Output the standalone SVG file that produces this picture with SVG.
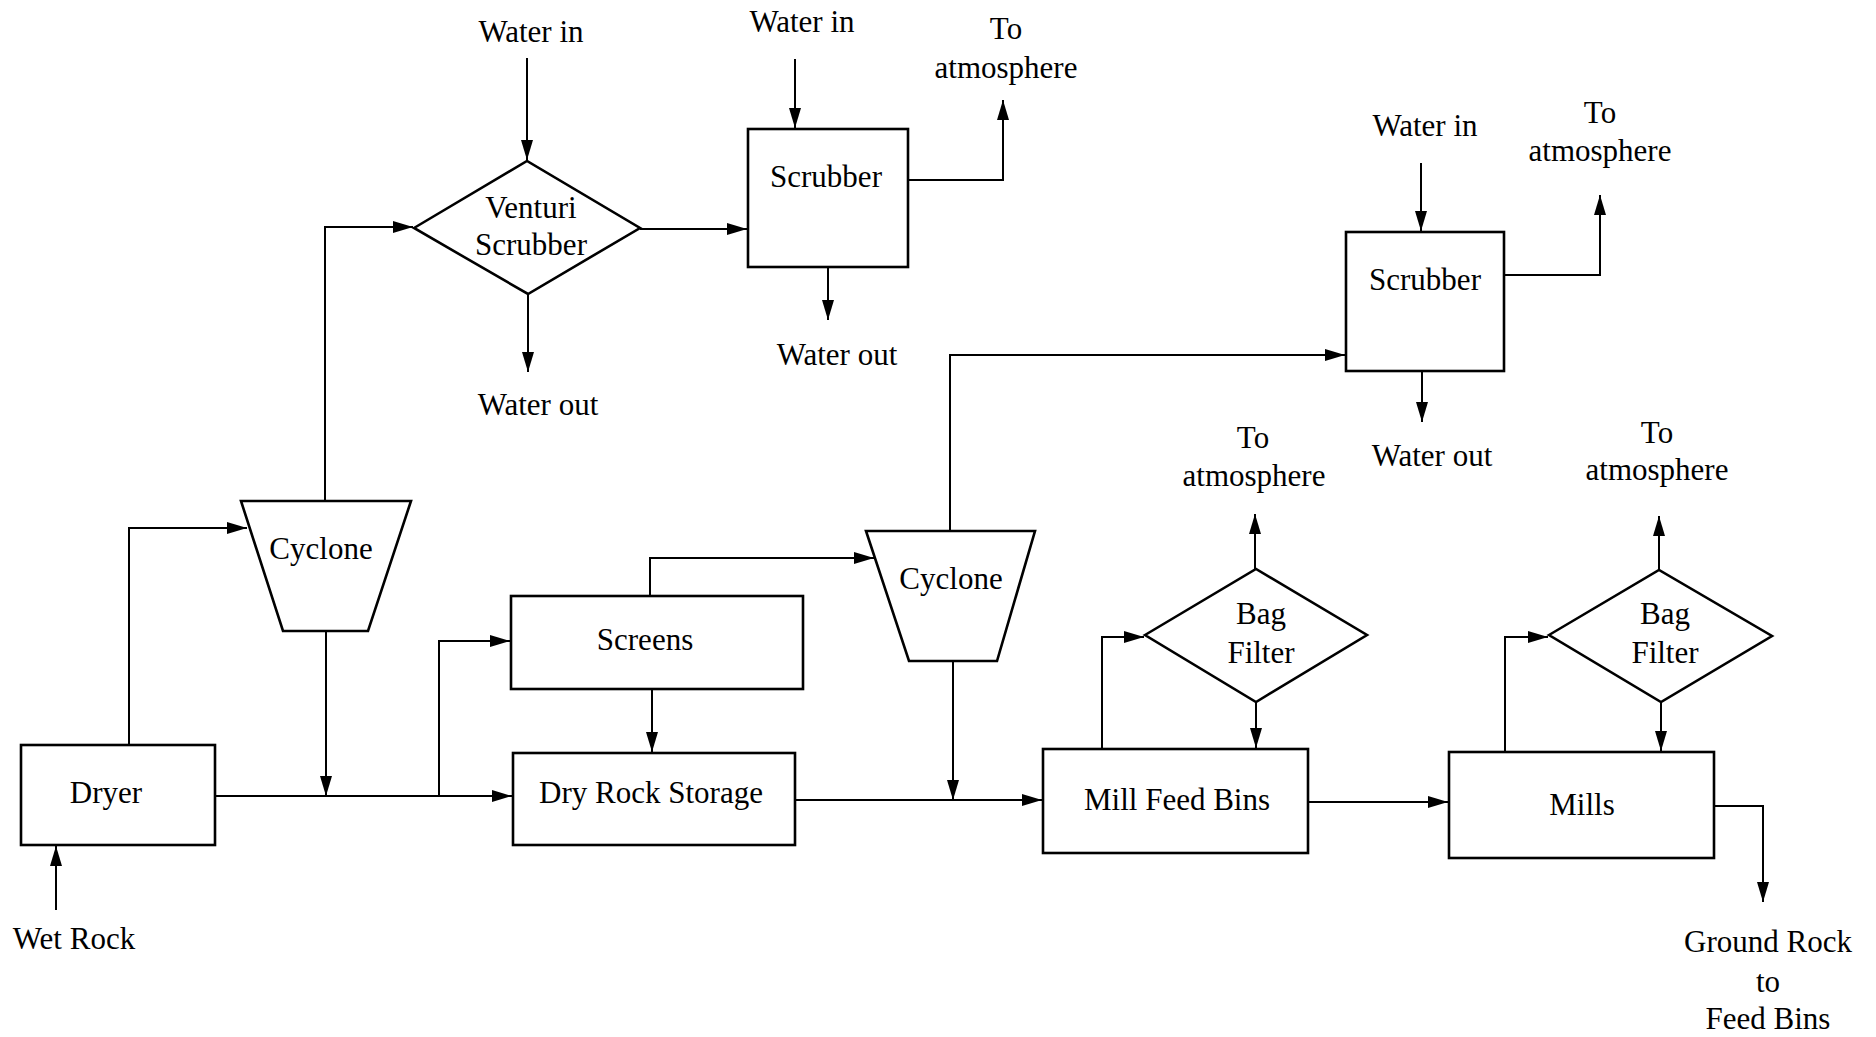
<svg xmlns="http://www.w3.org/2000/svg" width="1876" height="1037" viewBox="0 0 1876 1037">
<style>
.n{fill:#fff;stroke:#000;stroke-width:2.6}
.c{fill:none;stroke:#000;stroke-width:2}
text{font-family:"Liberation Serif","Times New Roman",serif;font-size:31px;fill:#000;text-anchor:middle}
</style>
<defs>
<marker id="a" markerUnits="userSpaceOnUse" markerWidth="20" markerHeight="12" refX="20" refY="6" orient="auto">
<path d="M0,0 L20,6 L0,12 z" fill="#000"/>
</marker>
</defs>
<rect width="1876" height="1037" fill="#fff"/>
<g id="connectors" class="c" marker-end="url(#a)">
<path d="M527,58 L527,160"/>
<path d="M528,294 L528,372"/>
<path d="M325,501 L325,227 L413,227"/>
<path d="M640,229 L747,229"/>
<path d="M795,59 L795,128"/>
<path d="M908,180 L1003,180 L1003,100"/>
<path d="M828,267 L828,320"/>
<path d="M950,531 L950,355 L1345,355"/>
<path d="M1421,163 L1421,231"/>
<path d="M1504,275 L1600,275 L1600,195"/>
<path d="M1422,371 L1422,422"/>
<path d="M56,910 L56,846"/>
<path d="M129,745 L129,528 L247,528"/>
<path d="M215,796 L512,796"/>
<path d="M326,631 L326,796"/>
<path d="M439,796 L439,641 L510,641"/>
<path d="M652,689 L652,752"/>
<path d="M650,596 L650,558 L874,558"/>
<path d="M795,800 L1042,800"/>
<path d="M953,661 L953,800"/>
<path d="M1102,749 L1102,637 L1144,637"/>
<path d="M1255,569 L1255,514"/>
<path d="M1256,702 L1256,748"/>
<path d="M1308,802 L1448,802"/>
<path d="M1505,752 L1505,637 L1548,637"/>
<path d="M1659,570 L1659,516"/>
<path d="M1661,702 L1661,751"/>
<path d="M1714,806 L1763,806 L1763,902"/>
</g>
<g id="dryer"><rect class="n" x="21" y="745" width="194" height="100"/><text x="106" y="803">Dryer</text></g>
<g id="cyclone1"><polygon class="n" points="241,501 411,501 368,631 283,631"/><text x="321" y="559">Cyclone</text></g>
<g id="venturi"><polygon class="n" points="414,228 527,161 640,228 528,294"/><text x="531" y="218">Venturi</text><text x="531" y="255">Scrubber</text></g>
<g id="scrubber1"><rect class="n" x="748" y="129" width="160" height="138"/><text x="826" y="187">Scrubber</text></g>
<g id="scrubber2"><rect class="n" x="1346" y="232" width="158" height="139"/><text x="1425" y="290">Scrubber</text></g>
<g id="screens"><rect class="n" x="511" y="596" width="292" height="93"/><text x="645" y="650">Screens</text></g>
<g id="storage"><rect class="n" x="513" y="753" width="282" height="92"/><text x="651" y="803">Dry Rock Storage</text></g>
<g id="cyclone2"><polygon class="n" points="866,531 1035,531 997,661 909,661"/><text x="951" y="589">Cyclone</text></g>
<g id="millfeed"><rect class="n" x="1043" y="749" width="265" height="104"/><text x="1177" y="810">Mill Feed Bins</text></g>
<g id="bagfilter1"><polygon class="n" points="1145,635 1256,569 1367,635 1256,702"/><text x="1261" y="624">Bag</text><text x="1261" y="663">Filter</text></g>
<g id="mills"><rect class="n" x="1449" y="752" width="265" height="106"/><text x="1582" y="815">Mills</text></g>
<g id="bagfilter2"><polygon class="n" points="1549,635 1659,570 1772,636 1661,702"/><text x="1665" y="624">Bag</text><text x="1665" y="663">Filter</text></g>
<g id="labels">
<text x="531" y="42">Water in</text>
<text x="538" y="415">Water out</text>
<text x="802" y="32">Water in</text>
<text x="1006" y="39">To</text>
<text x="1006" y="78">atmosphere</text>
<text x="837" y="365">Water out</text>
<text x="1425" y="136">Water in</text>
<text x="1600" y="123">To</text>
<text x="1600" y="161">atmosphere</text>
<text x="1432" y="466">Water out</text>
<text x="1253" y="448">To</text>
<text x="1254" y="486">atmosphere</text>
<text x="1657" y="443">To</text>
<text x="1657" y="480">atmosphere</text>
<text x="74" y="949">Wet Rock</text>
<text x="1768" y="952">Ground Rock</text>
<text x="1768" y="992">to</text>
<text x="1768" y="1029">Feed Bins</text>
</g>
</svg>
